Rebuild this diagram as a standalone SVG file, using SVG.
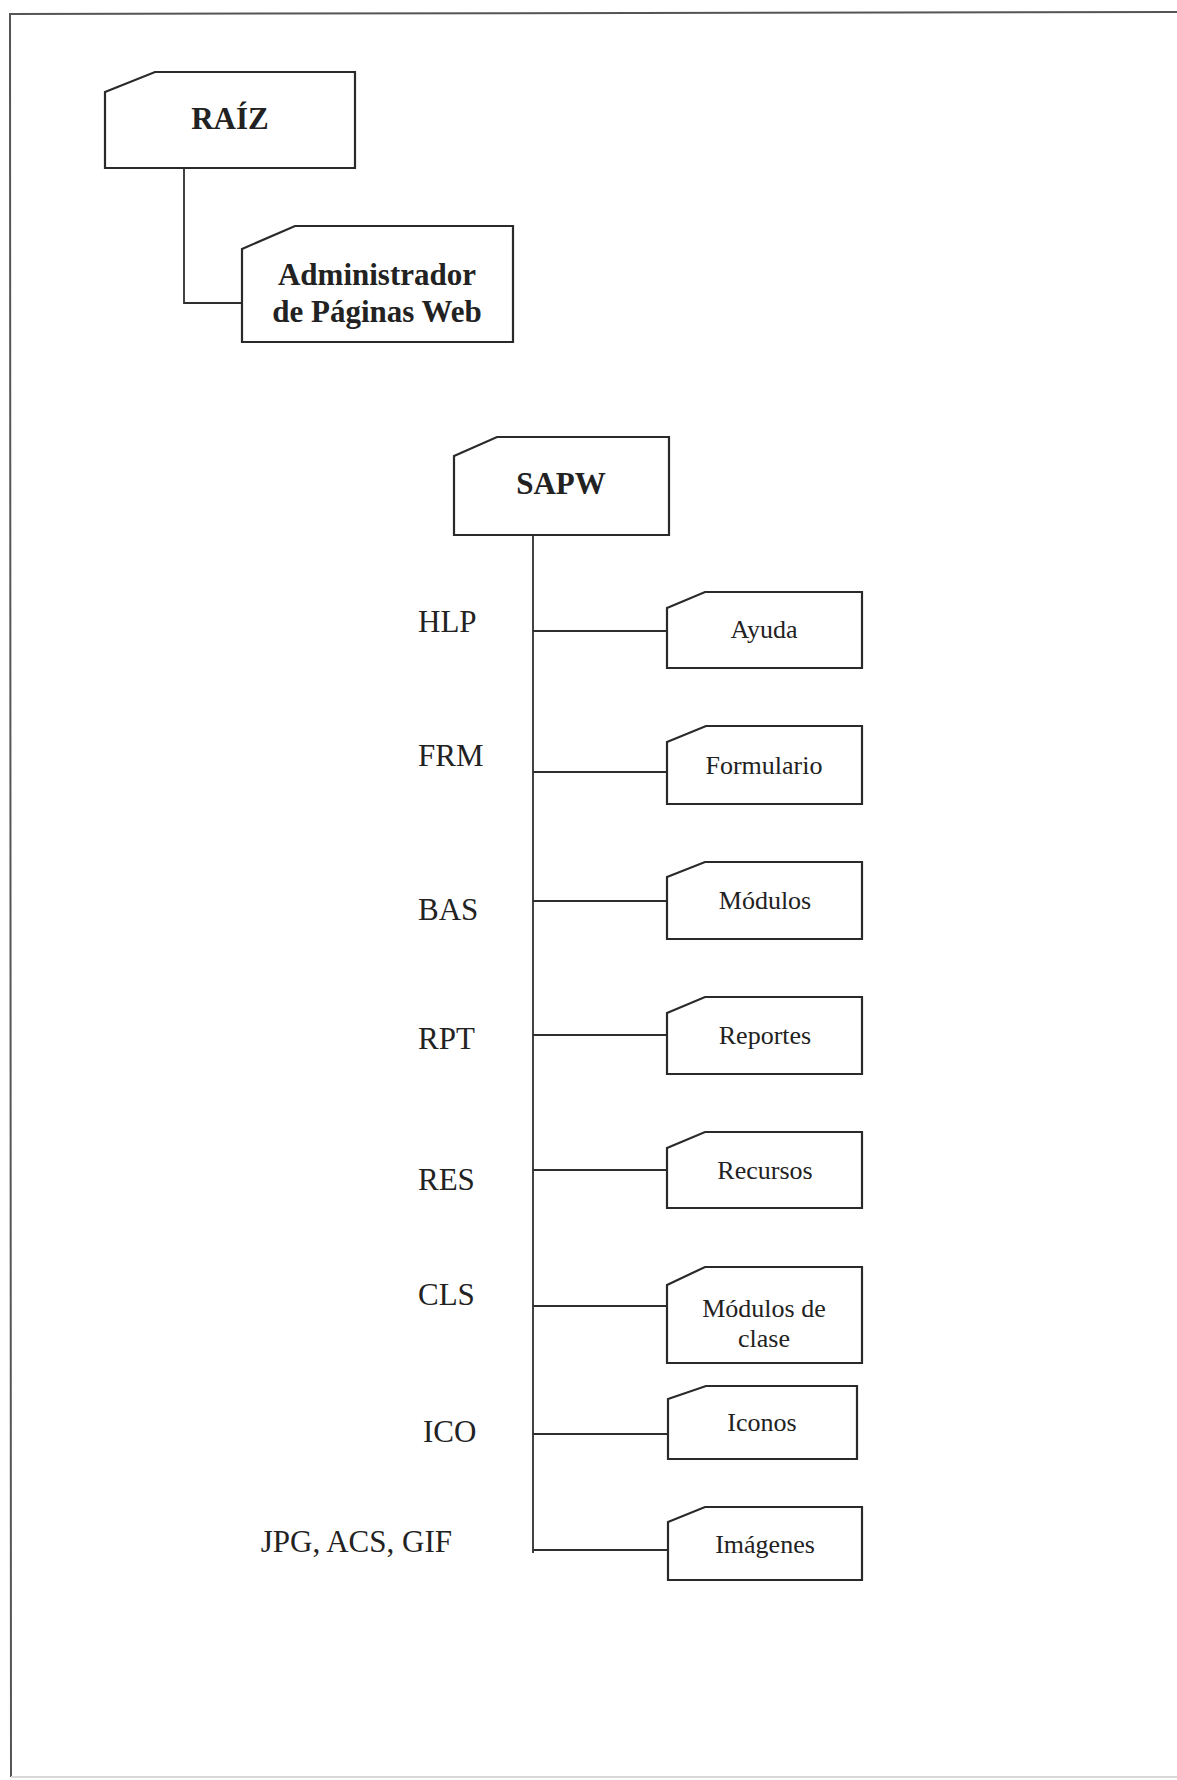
<svg xmlns="http://www.w3.org/2000/svg" width="1177" height="1780" viewBox="0 0 1177 1780">
<style>
.box{fill:#fff;stroke:#2a2a2a;stroke-width:2.2}
.con{fill:none;stroke:#2e2e2e;stroke-width:1.8}
.frame{fill:none;stroke:#555;stroke-width:2}
.bt{font-family:"Liberation Serif",serif;font-weight:bold;fill:#222;text-anchor:middle;font-size:31px}
.t{font-family:"Liberation Serif",serif;fill:#222;text-anchor:middle;font-size:26px}
.lbl{font-family:"Liberation Serif",serif;fill:#222;font-size:31px}
</style>
<rect width="1177" height="1780" fill="#fff"/>
<g id="frame">
<path class="frame" d="M1177 12 L10 14 L11 1777"/>
<path d="M11 1777 L1177 1777" stroke="#d8d8d8" stroke-width="2" fill="none"/>
</g>
<g id="connectors">
<path class="con" d="M184 168 V303 H242"/>
<path class="con" d="M533 535 V1553"/>
<path class="con" d="M533 631 H667"/>
<path class="con" d="M533 772 H667"/>
<path class="con" d="M533 901 H667" stroke-width="1.4"/>
<path class="con" d="M533 1035 H667" stroke-width="2.2"/>
<path class="con" d="M533 1170 H667"/>
<path class="con" d="M533 1306 H667"/>
<path class="con" d="M533 1434 H668" stroke-width="2.2"/>
<path class="con" d="M533 1550 H668"/>
</g>
<g id="raiz">
<path class="box" d="M105 92 L155 72 H355 V168 H105 Z"/>
<text class="bt" x="230" y="129">RAÍZ</text>
</g>
<g id="admin">
<path class="box" d="M242 249 L295 226 H513 V342 H242 Z"/>
<text class="bt" x="377" y="285">Administrador</text>
<text class="bt" x="377" y="322">de Páginas Web</text>
</g>
<g id="sapw">
<path class="box" d="M454 456 L497 437 H669 V535 H454 Z"/>
<text class="bt" x="561" y="494">SAPW</text>
</g>
<g id="ayuda">
<path class="box" d="M667 608 L705 592 H862 V668 H667 Z"/>
<text class="t" x="764" y="638">Ayuda</text>
</g>
<g id="formulario">
<path class="box" d="M667 742 L706 726 H862 V804 H667 Z"/>
<text class="t" x="764" y="774">Formulario</text>
</g>
<g id="modulos">
<path class="box" d="M667 877 L705 862 H862 V939 H667 Z"/>
<text class="t" x="765" y="909">Módulos</text>
</g>
<g id="reportes">
<path class="box" d="M667 1013 L705 997 H862 V1074 H667 Z"/>
<text class="t" x="765" y="1044">Reportes</text>
</g>
<g id="recursos">
<path class="box" d="M667 1148 L705 1132 H862 V1208 H667 Z"/>
<text class="t" x="765" y="1179">Recursos</text>
</g>
<g id="modclase">
<path class="box" d="M667 1285 L705 1267 H862 V1363 H667 Z"/>
<text class="t" x="764" y="1317">Módulos de</text>
<text class="t" x="764" y="1347">clase</text>
</g>
<g id="iconos">
<path class="box" d="M668 1399 L706 1386 H857 V1459 H668 Z"/>
<text class="t" x="762" y="1431">Iconos</text>
</g>
<g id="imagenes">
<path class="box" d="M668 1522 L705 1507 H862 V1580 H668 Z"/>
<text class="t" x="765" y="1553">Imágenes</text>
</g>
<g id="labels">
<text class="lbl" x="418" y="632">HLP</text>
<text class="lbl" x="418" y="766">FRM</text>
<text class="lbl" x="418" y="920">BAS</text>
<text class="lbl" x="418" y="1049">RPT</text>
<text class="lbl" x="418" y="1190">RES</text>
<text class="lbl" x="418" y="1305">CLS</text>
<text class="lbl" x="423" y="1442">ICO</text>
<text class="lbl" x="452" y="1552" text-anchor="end">JPG, ACS, GIF</text>
</g>
</svg>
